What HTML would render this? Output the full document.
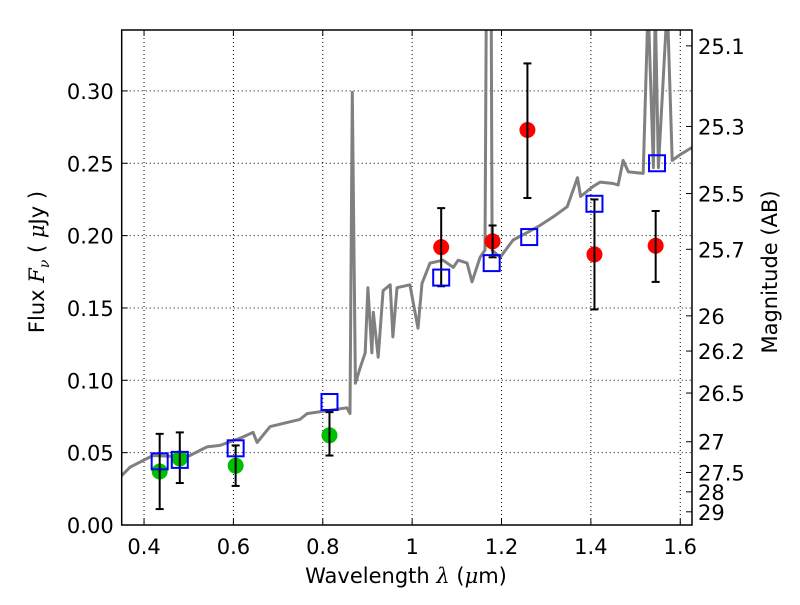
<!DOCTYPE html>
<html><head><meta charset="utf-8"><style>
body{margin:0;background:#fff}
text{font-family:"DejaVu Sans","Liberation Sans",sans-serif;}
</style></head><body>
<svg id="chart" width="800" height="600" xmlns="http://www.w3.org/2000/svg"></svg>
<script>
const specX=[0.346,0.369,0.420,0.496,0.541,0.570,0.615,0.644,0.653,0.682,0.749,0.765,0.854,0.861,0.866,0.873,0.884,0.895,0.901,0.910,0.913,0.924,0.935,0.951,0.957,0.966,0.995,1.013,1.022,1.040,1.069,1.092,1.103,1.123,1.134,1.152,1.163,1.166,1.177,1.179,1.197,1.226,1.257,1.286,1.316,1.347,1.370,1.377,1.405,1.421,1.450,1.461,1.472,1.484,1.517,1.528,1.540,1.544,1.551,1.571,1.582,1.600,1.627];
const specY=[0.033,0.040,0.048,0.047,0.054,0.055,0.060,0.064,0.057,0.068,0.073,0.077,0.081,0.077,0.299,0.098,0.109,0.119,0.164,0.119,0.147,0.116,0.162,0.166,0.130,0.164,0.166,0.136,0.167,0.181,0.183,0.178,0.183,0.181,0.168,0.185,0.190,0.36,0.36,0.190,0.185,0.197,0.202,0.207,0.213,0.220,0.240,0.227,0.234,0.237,0.236,0.235,0.252,0.244,0.243,0.36,0.247,0.36,0.247,0.36,0.252,0.256,0.261];
const redX=[1.065,1.18,1.258,1.408,1.545];
const redY=[0.192,0.196,0.273,0.187,0.193];
const redLo=[0.165,0.185,0.226,0.149,0.168];
const redHi=[0.219,0.207,0.319,0.225,0.217];
const greenX=[0.435,0.48,0.605,0.815];
const greenY=[0.037,0.046,0.041,0.062];
const greenLo=[0.011,0.029,0.027,0.048];
const greenHi=[0.063,0.064,0.055,0.078];
const sqX=[0.435,0.48,0.605,0.815,1.065,1.178,1.262,1.408,1.548];
const sqY=[0.044,0.045,0.053,0.085,0.171,0.181,0.199,0.222,0.250];
const xTicks=[0.4,0.6,0.8,1.0,1.2,1.4,1.6];
const xTickLabels=["0.4","0.6","0.8","1","1.2","1.4","1.6"];
const yTicks=[0,0.05,0.10,0.15,0.20,0.25,0.30];
const yTickLabels=["0.00","0.05","0.10","0.15","0.20","0.25","0.30"];
const magTicks=[25.1,25.3,25.5,25.7,26,26.2,26.5,27,27.5,28,29];
const magLabels=["25.1","25.3","25.5","25.7","26","26.2","26.5","27","27.5","28","29"];

const L=121.7,R=692,T=30,B=525,X0=0.35,X1=1.6263,Y1=0.3421;
const sx=v=>L+(v-X0)/(X1-X0)*(R-L);
const sy=v=>B-v/Y1*(B-T);
const svg=document.getElementById('chart');
const NS='http://www.w3.org/2000/svg';
function mk(tag,attrs,parent){const e=document.createElementNS(NS,tag);for(const k in attrs)e.setAttribute(k,attrs[k]);(parent||svg).appendChild(e);return e;}
const defs=mk('defs',{});
const cp=mk('clipPath',{id:'clip'},defs);mk('rect',{x:L,y:T,width:R-L,height:B-T},cp);

xTicks.forEach(v=>{const g=mk('line',{x1:sx(v),x2:sx(v),y1:T,y2:B,stroke:'#000','stroke-width':1,'stroke-dasharray':'1,3'});

});
yTicks.forEach(v=>{const g=mk('line',{x1:L,x2:R,y1:sy(v),y2:sy(v),stroke:'#000','stroke-width':1,'stroke-dasharray':'1,3'});

});

let d='';specX.forEach((x,i)=>{d+=(i?'L':'M')+sx(x).toFixed(1)+','+sy(specY[i]).toFixed(1);});
const sp=mk('path',{d:d,fill:'none',stroke:'#808080','stroke-width':3,'clip-path':'url(#clip)','stroke-linejoin':'round'});



function errbar(x,lo,hi,name){const g=mk('g',{stroke:'#000','stroke-width':2});


mk('line',{x1:sx(x),x2:sx(x),y1:sy(lo),y2:sy(hi)},g);
mk('line',{x1:sx(x)-4,x2:sx(x)+4,y1:sy(lo),y2:sy(lo)},g);
mk('line',{x1:sx(x)-4,x2:sx(x)+4,y1:sy(hi),y2:sy(hi)},g);}
greenX.forEach((x,i)=>{const c=mk('circle',{cx:sx(x),cy:sy(greenY[i]),r:8,fill:'#00bf00'});

});
redX.forEach((x,i)=>{const c=mk('circle',{cx:sx(x),cy:sy(redY[i]),r:8,fill:'#ff0000'});

});
greenX.forEach((x,i)=>errbar(x,greenLo[i],greenHi[i],'green-error-bar'));
redX.forEach((x,i)=>errbar(x,redLo[i],redHi[i],'red-error-bar'));
sqX.forEach((x,i)=>{const s=mk('rect',{x:sx(x)-8,y:sy(sqY[i])-8,width:16,height:16,fill:'none',stroke:'#0000ff','stroke-width':2});

});

const fr=mk('rect',{x:L,y:T,width:R-L,height:B-T,fill:'none',stroke:'#000','stroke-width':1.5});


xTicks.forEach((v,i)=>{mk('line',{x1:sx(v),x2:sx(v),y1:B,y2:B-6,stroke:'#000'});mk('line',{x1:sx(v),x2:sx(v),y1:T,y2:T+6,stroke:'#000'});
const t=mk('text',{x:sx(v),y:B+29,'font-size':21,'text-anchor':'middle'});t.textContent=xTickLabels[i];

});
yTicks.forEach((v,i)=>{mk('line',{x1:L,x2:L+6,y1:sy(v),y2:sy(v),stroke:'#000'});
const t=mk('text',{x:L-8,y:sy(v)+8,'font-size':21,'text-anchor':'end'});t.textContent=yTickLabels[i];

});
magTicks.forEach((m,i)=>{const f=Math.pow(10,(23.9-m)/2.5);const y=sy(f);
mk('line',{x1:R,x2:R-6,y1:y,y2:y,stroke:'#000'});
const t=mk('text',{x:R+6,y:y+8,'font-size':21});t.textContent=magLabels[i];

});
</script>
<svg width="800" height="600" style="position:absolute;left:0;top:0" xmlns="http://www.w3.org/2000/svg">
<text x="406" y="583" font-size="21" text-anchor="middle">Wavelength  <tspan font-style="italic" font-family="DejaVu Serif">λ</tspan> (<tspan font-style="italic" font-family="DejaVu Serif">μ</tspan>m)</text>
<text transform="translate(44,262) rotate(-90)" font-size="21" text-anchor="middle">Flux  <tspan font-style="italic" font-family="DejaVu Serif">F</tspan><tspan font-style="italic" font-family="DejaVu Serif" font-size="14" dy="5">ν</tspan><tspan dy="-5">  (  </tspan><tspan font-style="italic" font-family="DejaVu Serif">μ</tspan>Jy )</text>
<text transform="translate(777,272) rotate(-90)" font-size="21" text-anchor="middle">Magnitude (AB)</text>
</svg>
</body></html>
